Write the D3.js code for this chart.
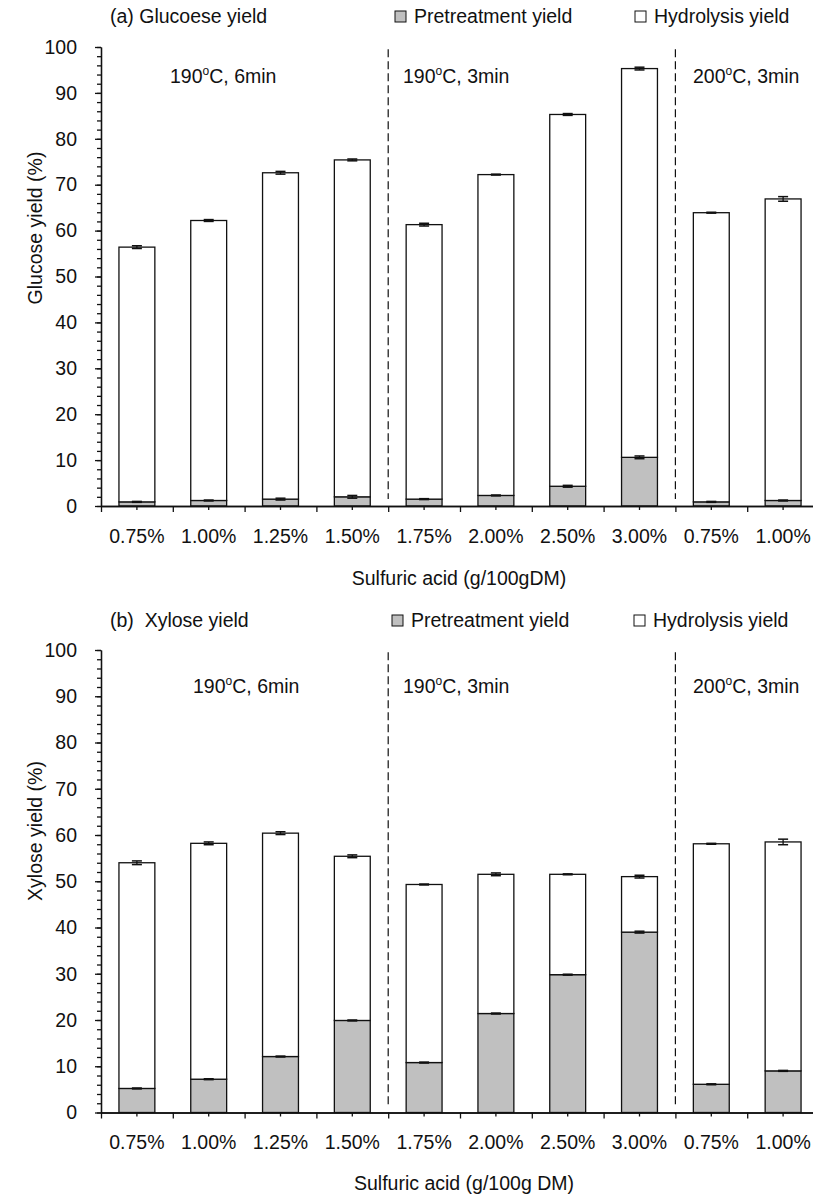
<!DOCTYPE html>
<html>
<head>
<meta charset="utf-8">
<script src="https://cdn.jsdelivr.net/npm/d3@7"></script>
<style>
  body { margin: 0; background: #fff; }
  text { font-family: "Liberation Sans", Arial, sans-serif; fill: #111; }
</style>
</head>
<body>
<script>
// acid loadings on the x axis (repeat for the 200C group)
var acidLabels = ["0.75%", "1.00%", "1.25%", "1.50%", "1.75%", "2.00%", "2.50%", "3.00%", "0.75%", "1.00%"];
var condTemps = ["190", "190", "200"];
var condTimes = ["6min", "3min", "3min"];
var seriesNames = ["Pretreatment yield", "Hydrolysis yield"];
var yTicks = [0, 10, 20, 30, 40, 50, 60, 70, 80, 90, 100];

// (a) glucose
var glcPre = [0.9, 1.2, 1.5, 2.0, 1.5, 2.3, 4.3, 10.6, 0.9, 1.2];
var glcHyd = [55.5, 61.0, 71.1, 73.4, 59.8, 69.9, 81.0, 84.7, 63.0, 65.7];
var glcPreErr = [0.1, 0.1, 0.2, 0.3, 0.1, 0.1, 0.2, 0.3, 0.1, 0.1];
var glcHydErr = [0.3, 0.2, 0.3, 0.2, 0.3, 0.1, 0.2, 0.3, 0.1, 0.5];

// (b) xylose
var xylPre = [5.2, 7.2, 12.1, 19.9, 10.8, 21.4, 29.8, 39.0, 6.1, 9.0];
var xylHyd = [48.8, 51.0, 48.3, 35.5, 38.5, 30.1, 21.7, 12.0, 52.0, 49.5];
var xylPreErr = [0.1, 0.1, 0.1, 0.1, 0.1, 0.1, 0.1, 0.2, 0.1, 0.1];
var xylHydErr = [0.4, 0.3, 0.3, 0.3, 0.1, 0.3, 0.1, 0.3, 0.1, 0.6];

var colors = { pre: "#c0c0c0", hyd: "#ffffff" };
var fontSize = 19.5;

var svg = d3.select("body").append("svg")
    .attr("width", 813)
    .attr("height", 1195);

var left = 101, right = 819;

var x = d3.scaleBand()
    .domain(d3.range(acidLabels.length))
    .range([left, right])
    .paddingInner(0.5)
    .paddingOuter(0.25);

var xEdge = d3.scaleLinear()
    .domain([0, acidLabels.length])
    .range([left, right]);

function drawPanel(p) {
  var g = svg.append("g");
  var y = d3.scaleLinear().domain([0, 100]).range([p.bottom, p.top]);

  var rows = acidLabels.map(function(d, i) {
    return { i: i, pre: p.pre[i], hyd: p.hyd[i], preErr: p.preErr[i], hydErr: p.hydErr[i] };
  });
  var stack = d3.stack().keys(["pre", "hyd"])(rows);

  // bars
  stack.forEach(function(layer) {
    g.selectAll(".bar-" + layer.key)
      .data(layer)
      .enter().append("rect")
        .attr("x", function(d) { return x(d.data.i); })
        .attr("y", function(d) { return y(d[1]); })
        .attr("width", x.bandwidth())
        .attr("height", function(d) { return y(d[0]) - y(d[1]); })
        .attr("fill", colors[layer.key])
        .attr("stroke", "#111")
        .attr("stroke-width", 1.3);
  });

  // error bars
  stack.forEach(function(layer) {
    var errKey = layer.key + "Err";
    var eg = g.selectAll(".err-" + layer.key)
      .data(layer)
      .enter().append("g");
    var cx = function(d) { return x(d.data.i) + x.bandwidth() / 2; };
    eg.append("line")
      .attr("x1", cx).attr("x2", cx)
      .attr("y1", function(d) { return y(d[1] - d.data[errKey]); })
      .attr("y2", function(d) { return y(d[1] + d.data[errKey]); })
      .attr("stroke", "#111").attr("stroke-width", 1.3);
    [-1, 1].forEach(function(s) {
      eg.append("line")
        .attr("x1", function(d) { return cx(d) - 5; })
        .attr("x2", function(d) { return cx(d) + 5; })
        .attr("y1", function(d) { return y(d[1] + s * d.data[errKey]); })
        .attr("y2", function(d) { return y(d[1] + s * d.data[errKey]); })
        .attr("stroke", "#111").attr("stroke-width", 1.5);
    });
  });

  // dashed separators between condition groups
  [4, 8].forEach(function(k) {
    g.append("line")
      .attr("x1", xEdge(k)).attr("x2", xEdge(k))
      .attr("y1", y(99.5)).attr("y2", y(1.5))
      .attr("stroke", "#111").attr("stroke-width", 1.2)
      .attr("stroke-dasharray", "8,4");
  });

  // y axis
  var yMinor = g.append("g")
    .attr("transform", "translate(" + left + ",0)")
    .call(d3.axisLeft(y).tickValues(d3.range(0, 101, 2)).tickSize(4).tickSizeOuter(0).tickFormat(""));
  var yAxis = g.append("g")
    .attr("transform", "translate(" + left + ",0)")
    .call(d3.axisLeft(y).tickValues(yTicks).tickSize(6).tickSizeOuter(0).tickPadding(18));
  yAxis.selectAll("text").style("font-size", fontSize + "px").attr("fill", "#111");
  [yMinor, yAxis].forEach(function(a) {
    a.selectAll("line, path").attr("stroke", "#111").attr("stroke-width", 1.3);
  });

  // x axis: boundary ticks + center ticks with labels
  var xEdges = g.append("g")
    .attr("transform", "translate(0," + p.bottom + ")")
    .call(d3.axisBottom(xEdge).tickValues(d3.range(acidLabels.length + 1)).tickSize(6).tickSizeOuter(0).tickFormat(""));
  var xAxis = g.append("g")
    .attr("transform", "translate(0," + p.bottom + ")")
    .call(d3.axisBottom(x).tickSize(4).tickSizeOuter(0).tickPadding(19)
      .tickFormat(function(i) { return acidLabels[i]; }));
  xAxis.selectAll("text").style("font-size", fontSize + "px").attr("fill", "#111");
  [xEdges, xAxis].forEach(function(a) {
    a.selectAll("line, path").attr("stroke", "#111").attr("stroke-width", 1.3);
  });

  // axis titles
  g.append("text")
    .attr("x", p.xTitleX).attr("y", p.xTitleY)
    .attr("text-anchor", "middle")
    .style("font-size", fontSize + "px")
    .text(p.xTitle);
  g.append("text")
    .attr("transform", "translate(42," + p.yTitleY + ") rotate(-90)")
    .attr("text-anchor", "middle")
    .style("font-size", fontSize + "px")
    .text(p.yTitle);

  // panel title
  g.append("text")
    .attr("x", 110).attr("y", p.titleY)
    .style("font-size", fontSize + "px")
    .style("white-space", "pre")
    .attr("xml:space", "preserve")
    .text(p.title);

  // legend
  seriesNames.forEach(function(name, k) {
    var lx = p.legendX[k];
    g.append("rect")
      .attr("x", lx).attr("y", p.titleY - 12)
      .attr("width", 11).attr("height", 11)
      .attr("fill", k === 0 ? colors.pre : colors.hyd)
      .attr("stroke", "#111").attr("stroke-width", 1);
    g.append("text")
      .attr("x", lx + 19).attr("y", p.titleY)
      .style("font-size", fontSize + "px")
      .text(name);
  });

  // condition labels
  condTemps.forEach(function(t, k) {
    var tx = g.append("text")
      .attr("x", p.condX[k]).attr("y", p.condY)
      .style("font-size", fontSize + "px");
    tx.append("tspan").text(t);
    tx.append("tspan").attr("dy", -8).style("font-size", "12px").text("o");
    tx.append("tspan").attr("dy", 8).text("C, " + condTimes[k]);
  });
}

drawPanel({
  top: 47, bottom: 506,
  pre: glcPre, hyd: glcHyd, preErr: glcPreErr, hydErr: glcHydErr,
  title: "(a) Glucoese yield", titleY: 23,
  legendX: [395, 635],
  condX: [170, 403, 693], condY: 83,
  yTitle: "Glucose yield (%)", yTitleY: 228,
  xTitle: "Sulfuric acid (g/100gDM)", xTitleX: 459, xTitleY: 585
});

drawPanel({
  top: 650, bottom: 1112.5,
  pre: xylPre, hyd: xylHyd, preErr: xylPreErr, hydErr: xylHydErr,
  title: "(b)  Xylose yield", titleY: 627,
  legendX: [392, 634],
  condX: [193, 403, 693], condY: 693,
  yTitle: "Xylose yield (%)", yTitleY: 831,
  xTitle: "Sulfuric acid (g/100g DM)", xTitleX: 464, xTitleY: 1190
});
</script>
</body>
</html>
